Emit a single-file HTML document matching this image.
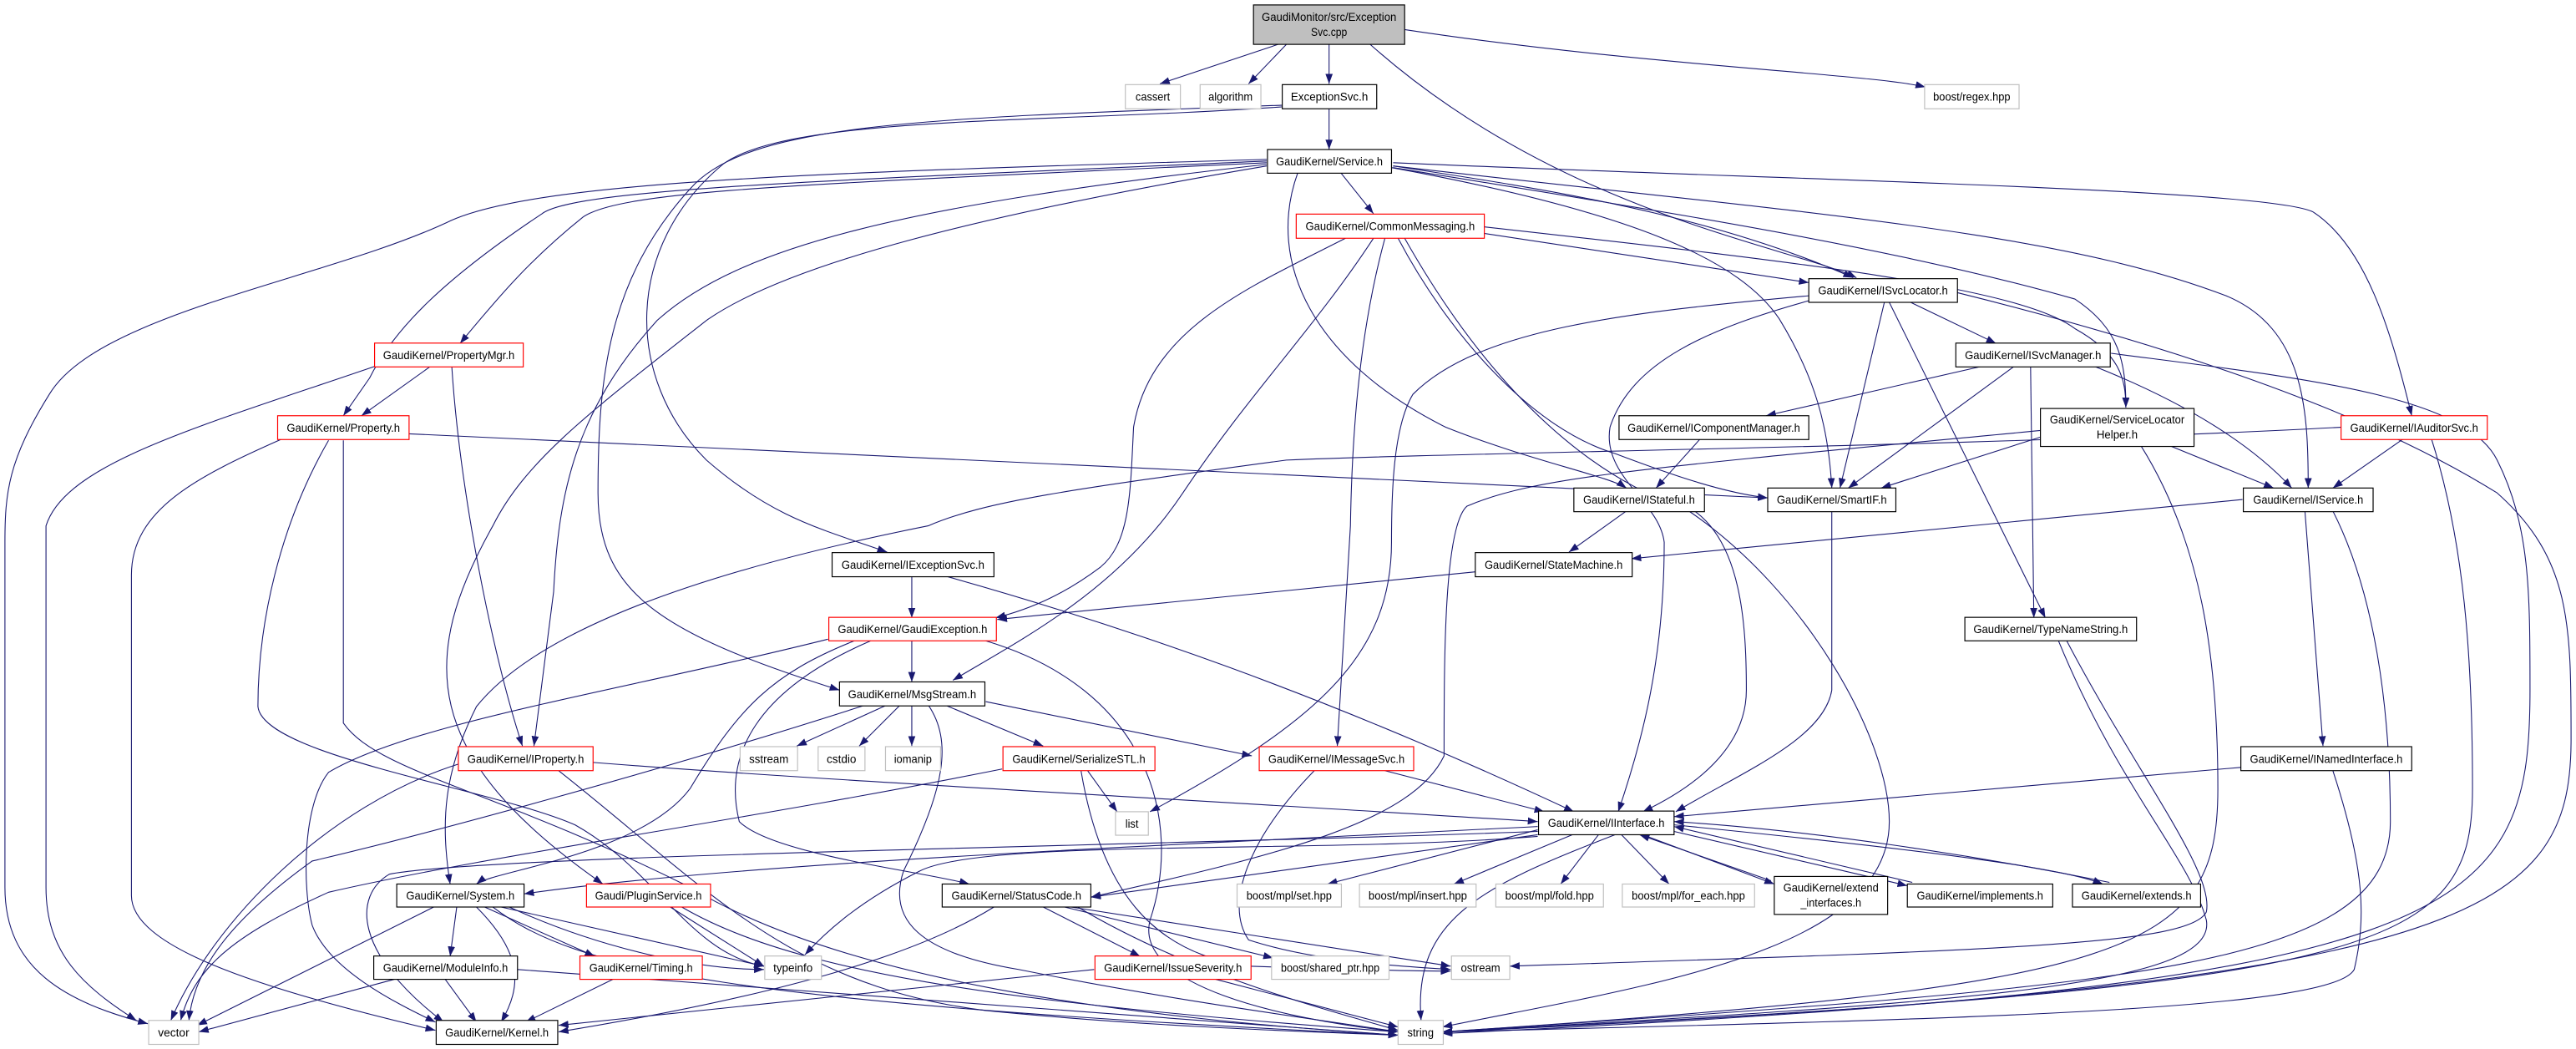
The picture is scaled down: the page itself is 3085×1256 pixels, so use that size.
<!DOCTYPE html>
<html><head><meta charset="utf-8"><style>
html,body{margin:0;padding:0;background:#fff;}
svg{display:block;}
text{font-family:"Liberation Sans",sans-serif;font-size:7.2px;fill:#000;text-anchor:middle;}
.e{fill:none;stroke:#191970;stroke-width:0.55;}
.b{fill:#fff;stroke:#000;stroke-width:0.6;}
.r{fill:#fff;stroke:#ff0000;stroke-width:0.6;}
.g{fill:#fff;stroke:#bfbfbf;stroke-width:0.6;}
.root{fill:#bfbfbf;stroke:#000;stroke-width:0.6;}
</style></head><body>
<svg width="3085" height="1256" viewBox="0 0 1568 638.4" preserveAspectRatio="none" xmlns="http://www.w3.org/2000/svg">
<defs><marker id="a" markerUnits="userSpaceOnUse" markerWidth="7" markerHeight="5" refX="6" refY="2.2" orient="auto"><path d="M0,0 L6,2.2 L0,4.4 z" fill="#191970"/></marker></defs>
<g class="e" marker-end="url(#a)">
<path d="M781 26 L706 51"/>
<path d="M784 26 L760 51"/>
<path d="M809 27 L809 51"/>
<path d="M834 27 C 950 130 1090 150 1130 169"/>
<path d="M855 18 C 1000 40 1140 45 1172 53"/>
<path d="M809 66 L809 91"/>
<path d="M781 65 C 640 75 480 70 440 100 C 380 150 380 230 430 280 C 470 315 500 322 540 336"/>
<path d="M781 64 C 560 72 455 75 420 115 C 370 170 364 230 364 300 C 364 360 400 385 511 420"/>
<path d="M771 97 C 500 105 330 110 275 134 C 200 170 60 190 30 240 C 5 280 3 300 3 330 L 3 540 C 3 590 40 610 90 623"/>
<path d="M771 98 C 500 110 350 115 330 130 C 270 170 240 200 225 230 L 209 253"/>
<path d="M771 99 C 500 112 380 115 355 132 C 320 160 300 185 280 209"/>
<path d="M771 100 C 550 125 450 150 400 195 C 350 250 340 300 337 360 L 325 454"/>
<path d="M771 101 C 600 130 480 160 430 195 C 360 250 320 280 300 320 C 255 400 255 460 367 538"/>
<path d="M1425 260 C 1200 272 900 275 783 280 C 650 298 600 305 565 320 C 440 345 330 380 290 430 C 270 470 268 500 274 538"/>
<path d="M816 105 L836 130"/>
<path d="M790 105 C 770 160 800 220 880 260 C 930 280 980 290 990 297"/>
<path d="M847 102 C 1000 130 1060 160 1083 194 C 1105 230 1113 260 1115 297"/>
<path d="M848 101 C 940 115 1040 130 1128 169"/>
<path d="M848 102 C 1020 130 1150 150 1263 182 C 1290 200 1294 220 1294 248"/>
<path d="M848 101 C 1100 130 1250 140 1355 180 C 1403 200 1405 250 1405 297"/>
<path d="M848 99 C 1100 110 1380 115 1408 129 C 1440 150 1455 200 1468 253"/>
<path d="M903 142 L1101 172"/>
<path d="M903 138 C 1100 160 1230 175 1263 200 C 1290 215 1294 230 1294 248"/>
<path d="M851 145 C 880 200 930 260 983 276 C 1020 290 1050 300 1076 303"/>
<path d="M843 145 C 828 200 823 260 822 320 L 814 454"/>
<path d="M836 145 C 800 200 760 240 720 300 C 680 360 620 390 580 414"/>
<path d="M819 145 C 760 175 700 200 690 260 C 688 300 688 330 670 345 C 650 360 630 370 606 376"/>
<path d="M855 145 C 920 260 990 300 1030 310 C 1060 330 1063 380 1063 420 C 1063 450 1040 475 1000 494"/>
<path d="M1101 183 C 1040 200 993 220 980 260 C 975 290 1010 305 1013 330 C 1013 400 1000 450 985 494"/>
<path d="M1101 180 C 990 190 900 200 860 240 C 848 260 847 300 847 330 C 847 400 800 440 700 494"/>
<path d="M1147 184 L1120 297"/>
<path d="M1150 184 L1245 376"/>
<path d="M1163 184 L1215 209"/>
<path d="M1191 178 C 1320 210 1440 250 1520 300 C 1565 340 1565 380 1565 450 C 1565 560 1500 600 878 628"/>
<path d="M1206 223 L1075 253"/>
<path d="M1226 223 L1125 297"/>
<path d="M1236 223 L1238 376"/>
<path d="M1275 223 C 1330 245 1370 270 1395 297"/>
<path d="M1285 215 C 1400 230 1500 240 1520 280 C 1540 320 1540 360 1540 420 C 1540 560 1500 600 878 629"/>
<path d="M1035 267 L1008 297"/>
<path d="M1242 266 L1145 297"/>
<path d="M1320 271 L1384 297"/>
<path d="M1303 271 C 1340 330 1350 400 1350 480 C 1350 580 1300 600 878 628"/>
<path d="M1242 262 C 1000 285 935 290 893 308 C 879 320 879 400 879 460 C 860 500 780 520 664 546"/>
<path d="M1463 267 L1420 297"/>
<path d="M1480 267 C 1500 330 1505 400 1505 480 C 1505 580 1450 600 878 628"/>
<path d="M249 264 C 500 275 800 290 1076 303"/>
<path d="M1365 304 L993 340"/>
<path d="M1403 311 L1414 454"/>
<path d="M1420 311 C 1450 370 1455 450 1455 500 C 1455 590 1300 600 878 628"/>
<path d="M990 311 L955 336"/>
<path d="M1115 311 C 1115 360 1115 400 1115 420 C 1110 450 1060 470 1020 494"/>
<path d="M1028 311 C 1100 360 1150 450 1150 500 C 1150 580 1000 600 878 625"/>
<path d="M898 348 L607 377"/>
<path d="M1253 390 C 1290 480 1333 522 1343 560 C 1350 600 1200 610 878 628"/>
<path d="M1258 390 C 1300 470 1348 530 1343 555 C 1333 575 1223 578 919 588"/>
<path d="M1364 467 L1019 497"/>
<path d="M1420 469 C 1440 530 1440 560 1433 590 C 1420 615 1200 620 878 628"/>
<path d="M555 351 L555 376"/>
<path d="M577 351 C 680 380 800 420 958 494"/>
<path d="M555 390 L555 415"/>
<path d="M504 389 C 380 420 250 440 200 470 C 184 490 184 540 190 563 C 200 590 240 610 265 622"/>
<path d="M520 390 C 470 410 450 430 420 480 C 390 520 300 530 290 538"/>
<path d="M530 390 C 460 420 440 460 450 500 C 470 520 560 530 590 538"/>
<path d="M600 390 C 700 420 720 500 700 560 C 690 600 780 620 851 628"/>
<path d="M540 429 L485 454"/>
<path d="M548 429 L523 454"/>
<path d="M555 429 L555 454"/>
<path d="M575 429 L635 454"/>
<path d="M600 427 L762 460"/>
<path d="M527 429 C 400 470 250 510 190 524 C 140 560 118 590 115 621"/>
<path d="M565 429 C 580 451 575 480 550 530 C 540 560 560 580 620 590 C 720 610 800 620 851 628"/>
<path d="M361 464 C 500 475 700 485 936 500"/>
<path d="M279 465 C 200 490 130 560 104 621"/>
<path d="M340 469 C 430 540 480 600 600 615 C 700 625 800 628 851 630"/>
<path d="M662 469 L680 494"/>
<path d="M610 468 C 450 500 300 520 200 543 C 140 570 118 590 110 621"/>
<path d="M658 469 C 670 540 700 580 760 588 C 820 590 860 591 883 591"/>
<path d="M843 469 L940 494"/>
<path d="M800 469 C 760 510 745 550 760 572 C 800 585 850 588 883 590"/>
<path d="M936 505 L808 538"/>
<path d="M957 508 L885 538"/>
<path d="M973 508 L950 538"/>
<path d="M987 508 L1016 538"/>
<path d="M936 503 C 700 515 450 525 319 544"/>
<path d="M936 506 C 700 515 300 520 237 532 C 215 545 215 580 270 622"/>
<path d="M936 508 L664 546"/>
<path d="M936 509 C 800 520 600 510 560 530 C 520 550 500 570 490 581"/>
<path d="M983 508 C 900 540 860 560 865 621"/>
<path d="M1000 508 L1080 538"/>
<path d="M1078 536 L998 508"/>
<path d="M1019 506 L1161 539"/>
<path d="M1164 537 L1019 503"/>
<path d="M1019 502 C 1200 520 1260 530 1280 538"/>
<path d="M1284 537 C 1200 520 1100 505 1019 500"/>
<path d="M605 552 C 560 580 480 605 340 628"/>
<path d="M635 552 L694 582"/>
<path d="M648 552 L775 583"/>
<path d="M652 552 L883 588"/>
<path d="M656 552 C 720 590 790 610 851 627"/>
<path d="M666 590 L340 624"/>
<path d="M740 596 L851 625"/>
<path d="M264 552 L120 624"/>
<path d="M278 552 L274 582"/>
<path d="M295 552 L362 582"/>
<path d="M305 552 L465 588"/>
<path d="M310 552 C 360 575 420 590 465 590"/>
<path d="M290 552 C 318 580 318 600 305 622"/>
<path d="M300 552 C 350 590 440 610 851 630"/>
<path d="M408 552 L465 588"/>
<path d="M415 552 C 480 590 600 610 851 628"/>
<path d="M240 596 L121 628"/>
<path d="M271 596 L290 622"/>
<path d="M315 590 L851 630"/>
<path d="M373 596 L320 622"/>
<path d="M228 223 C 120 260 40 282 28 320 L 28 540 C 28 580 50 600 83 621"/>
<path d="M172 267 C 120 290 80 310 80 350 L 80 545 C 80 575 150 600 265 627"/>
<path d="M200 268 C 170 320 157 380 157 430 C 160 460 300 480 350 502 C 400 530 420 580 465 588"/>
<path d="M209 268 L 209 440 C 230 470 300 480 420 540 C 520 600 700 620 851 630"/>
<path d="M262 223 L220 253"/>
<path d="M275 223 C 280 300 300 400 318 454"/>
</g>
<g>
<rect class="root" x="763" y="3" width="92" height="24"/>
<text x="809" y="12.8" textLength="82" lengthAdjust="spacingAndGlyphs">GaudiMonitor/src/Exception</text>
<text x="809" y="21.8" textLength="22" lengthAdjust="spacingAndGlyphs">Svc.cpp</text>

<rect class="g" x="685" y="51.5" width="33.5" height="14.7"/><text x="701.7" y="61.3" textLength="21" lengthAdjust="spacingAndGlyphs">cassert</text>
<rect class="g" x="730.5" y="51.5" width="37" height="14.7"/><text x="749" y="61.3" textLength="27" lengthAdjust="spacingAndGlyphs">algorithm</text>
<rect class="b" x="780.5" y="51.5" width="57.5" height="14.7"/><text x="809.2" y="61.3" textLength="47" lengthAdjust="spacingAndGlyphs">ExceptionSvc.h</text>
<rect class="g" x="1171.5" y="51.5" width="57.5" height="14.7"/><text x="1200.2" y="61.3" textLength="47" lengthAdjust="spacingAndGlyphs">boost/regex.hpp</text>
<rect class="b" x="771.5" y="91" width="75.5" height="14.4"/><text x="809.2" y="100.6" textLength="65" lengthAdjust="spacingAndGlyphs">GaudiKernel/Service.h</text>
<rect class="r" x="789" y="130.3" width="114.5" height="14.7"/><text x="846.2" y="140.1" textLength="103" lengthAdjust="spacingAndGlyphs">GaudiKernel/CommonMessaging.h</text>
<rect class="b" x="1101" y="169.6" width="90.5" height="14.4"/><text x="1146.2" y="179.3" textLength="79" lengthAdjust="spacingAndGlyphs">GaudiKernel/ISvcLocator.h</text>
<rect class="b" x="1190.5" y="208.8" width="94" height="14.5"/><text x="1237.5" y="218.5" textLength="83" lengthAdjust="spacingAndGlyphs">GaudiKernel/ISvcManager.h</text>
<rect class="b" x="985.5" y="253" width="115.5" height="14.5"/><text x="1043.2" y="262.7" textLength="105" lengthAdjust="spacingAndGlyphs">GaudiKernel/IComponentManager.h</text>
<rect class="b" x="1242" y="248.6" width="93.5" height="23.1"/><text x="1288.7" y="257.8" textLength="82" lengthAdjust="spacingAndGlyphs">GaudiKernel/ServiceLocator</text><text x="1288.7" y="266.8" textLength="25" lengthAdjust="spacingAndGlyphs">Helper.h</text>
<rect class="r" x="1425" y="253" width="89" height="14.5"/><text x="1469.5" y="262.7" textLength="78" lengthAdjust="spacingAndGlyphs">GaudiKernel/IAuditorSvc.h</text>
<rect class="r" x="228" y="208.8" width="90.5" height="14.5"/><text x="273.2" y="218.5" textLength="80" lengthAdjust="spacingAndGlyphs">GaudiKernel/PropertyMgr.h</text>
<rect class="r" x="169" y="253" width="80" height="14.5"/><text x="209" y="262.7" textLength="69" lengthAdjust="spacingAndGlyphs">GaudiKernel/Property.h</text>
<rect class="b" x="958" y="297" width="79.5" height="14.4"/><text x="997.7" y="306.6" textLength="68" lengthAdjust="spacingAndGlyphs">GaudiKernel/IStateful.h</text>
<rect class="b" x="1076" y="297" width="78" height="14.4"/><text x="1115" y="306.6" textLength="67" lengthAdjust="spacingAndGlyphs">GaudiKernel/SmartIF.h</text>
<rect class="b" x="1365.5" y="297" width="79" height="14.4"/><text x="1405" y="306.6" textLength="67" lengthAdjust="spacingAndGlyphs">GaudiKernel/IService.h</text>
<rect class="b" x="506.5" y="336.3" width="98.5" height="14.7"/><text x="555.7" y="346.1" textLength="87" lengthAdjust="spacingAndGlyphs">GaudiKernel/IExceptionSvc.h</text>
<rect class="b" x="898" y="336.3" width="95.5" height="14.7"/><text x="945.7" y="346.1" textLength="84" lengthAdjust="spacingAndGlyphs">GaudiKernel/StateMachine.h</text>
<rect class="r" x="504.5" y="375.7" width="102" height="14.3"/><text x="555.5" y="385.3" textLength="91" lengthAdjust="spacingAndGlyphs">GaudiKernel/GaudiException.h</text>
<rect class="b" x="1196" y="375.7" width="104.5" height="14.3"/><text x="1248.2" y="385.3" textLength="94" lengthAdjust="spacingAndGlyphs">GaudiKernel/TypeNameString.h</text>
<rect class="b" x="511" y="415" width="88.5" height="14.6"/><text x="555.2" y="424.8" textLength="78" lengthAdjust="spacingAndGlyphs">GaudiKernel/MsgStream.h</text>
<rect class="r" x="279" y="454.4" width="82" height="14.6"/><text x="320" y="464.2" textLength="71" lengthAdjust="spacingAndGlyphs">GaudiKernel/IProperty.h</text>
<rect class="g" x="450.5" y="454.4" width="35" height="14.6"/><text x="468" y="464.2" textLength="24" lengthAdjust="spacingAndGlyphs">sstream</text>
<rect class="g" x="498" y="454.4" width="28.5" height="14.6"/><text x="512.2" y="464.2" textLength="18" lengthAdjust="spacingAndGlyphs">cstdio</text>
<rect class="g" x="539" y="454.4" width="33.5" height="14.6"/><text x="555.7" y="464.2" textLength="23" lengthAdjust="spacingAndGlyphs">iomanip</text>
<rect class="r" x="610.5" y="454.4" width="92.5" height="14.6"/><text x="656.7" y="464.2" textLength="81" lengthAdjust="spacingAndGlyphs">GaudiKernel/SerializeSTL.h</text>
<rect class="r" x="766.5" y="454.4" width="94" height="14.6"/><text x="813.5" y="464.2" textLength="83" lengthAdjust="spacingAndGlyphs">GaudiKernel/IMessageSvc.h</text>
<rect class="b" x="1364" y="454.4" width="104" height="14.6"/><text x="1416" y="464.2" textLength="93" lengthAdjust="spacingAndGlyphs">GaudiKernel/INamedInterface.h</text>
<rect class="g" x="679" y="494" width="20" height="14.3"/><text x="689" y="503.6" textLength="8" lengthAdjust="spacingAndGlyphs">list</text>
<rect class="b" x="936.5" y="493.6" width="82.5" height="14.4"/><text x="977.7" y="503.3" textLength="71" lengthAdjust="spacingAndGlyphs">GaudiKernel/IInterface.h</text>
<rect class="b" x="241.5" y="538" width="77.5" height="14"/><text x="280.2" y="547.5" textLength="66" lengthAdjust="spacingAndGlyphs">GaudiKernel/System.h</text>
<rect class="r" x="357" y="538" width="75.5" height="14"/><text x="394.7" y="547.5" textLength="65" lengthAdjust="spacingAndGlyphs">Gaudi/PluginService.h</text>
<rect class="b" x="573.5" y="538" width="90.5" height="14"/><text x="618.7" y="547.5" textLength="79" lengthAdjust="spacingAndGlyphs">GaudiKernel/StatusCode.h</text>
<rect class="g" x="753" y="538" width="63.5" height="14"/><text x="784.7" y="547.5" textLength="52" lengthAdjust="spacingAndGlyphs">boost/mpl/set.hpp</text>
<rect class="g" x="827.5" y="538" width="71" height="14"/><text x="863" y="547.5" textLength="60" lengthAdjust="spacingAndGlyphs">boost/mpl/insert.hpp</text>
<rect class="g" x="910.5" y="538" width="65.5" height="14"/><text x="943.2" y="547.5" textLength="54" lengthAdjust="spacingAndGlyphs">boost/mpl/fold.hpp</text>
<rect class="g" x="987.5" y="538" width="80.5" height="14"/><text x="1027.7" y="547.5" textLength="69" lengthAdjust="spacingAndGlyphs">boost/mpl/for_each.hpp</text>
<rect class="b" x="1080" y="533.4" width="69" height="23.1"/><text x="1114.5" y="542.7" textLength="58" lengthAdjust="spacingAndGlyphs">GaudiKernel/extend</text><text x="1114.5" y="551.7" textLength="37" lengthAdjust="spacingAndGlyphs">_interfaces.h</text>
<rect class="b" x="1161" y="538" width="88.5" height="14"/><text x="1205.2" y="547.5" textLength="77" lengthAdjust="spacingAndGlyphs">GaudiKernel/implements.h</text>
<rect class="b" x="1261.5" y="538" width="78" height="14"/><text x="1300.5" y="547.5" textLength="67" lengthAdjust="spacingAndGlyphs">GaudiKernel/extends.h</text>
<rect class="b" x="227.5" y="581.8" width="87.5" height="14.2"/><text x="271.2" y="591.4" textLength="76" lengthAdjust="spacingAndGlyphs">GaudiKernel/ModuleInfo.h</text>
<rect class="r" x="353" y="581.8" width="74.5" height="14.2"/><text x="390.2" y="591.4" textLength="63" lengthAdjust="spacingAndGlyphs">GaudiKernel/Timing.h</text>
<rect class="g" x="465.5" y="581.8" width="34.5" height="14.2"/><text x="482.7" y="591.4" textLength="24" lengthAdjust="spacingAndGlyphs">typeinfo</text>
<rect class="r" x="666.5" y="581.8" width="95" height="14.2"/><text x="714" y="591.4" textLength="84" lengthAdjust="spacingAndGlyphs">GaudiKernel/IssueSeverity.h</text>
<rect class="g" x="774" y="581.8" width="71.5" height="14.2"/><text x="809.7" y="591.4" textLength="60" lengthAdjust="spacingAndGlyphs">boost/shared_ptr.hpp</text>
<rect class="g" x="883.5" y="581.8" width="35.5" height="14.2"/><text x="901.2" y="591.4" textLength="24" lengthAdjust="spacingAndGlyphs">ostream</text>
<rect class="g" x="90.5" y="621" width="30.5" height="14.6"/><text x="105.7" y="630.8" textLength="19" lengthAdjust="spacingAndGlyphs">vector</text>
<rect class="b" x="265.5" y="621" width="74" height="14.6"/><text x="302.5" y="630.8" textLength="63" lengthAdjust="spacingAndGlyphs">GaudiKernel/Kernel.h</text>
<rect class="g" x="851" y="621" width="27.5" height="14.6"/><text x="864.7" y="630.8" textLength="16" lengthAdjust="spacingAndGlyphs">string</text>
</g>
</svg>
</body></html>
